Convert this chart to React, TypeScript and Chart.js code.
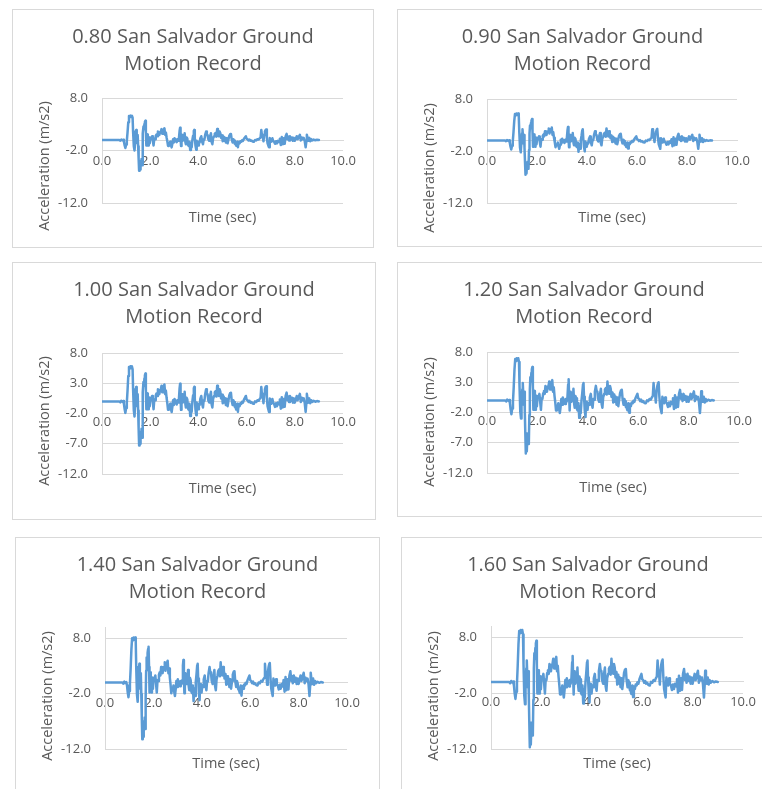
import React, { useEffect, useRef } from "react";
import { Chart, registerables } from "chart.js";

Chart.register(...registerables);

// San Salvador ground motion record at scale factor 1.00
// time (s) and acceleration (m/s2), listed second by second
const TIME_S = [
  0.0, 0.5, 0.72, 0.76, 0.8, 0.84, 0.88, 0.91, 0.94, 0.97, 1.0,
  1.03, 1.06, 1.09, 1.12, 1.15, 1.18, 1.21, 1.24, 1.27, 1.29, 1.32, 1.35, 1.37, 1.4, 1.42, 1.44, 1.46, 1.48, 1.5,
  1.52, 1.54, 1.56, 1.58, 1.6, 1.62, 1.64, 1.66, 1.68, 1.7, 1.72, 1.74, 1.76, 1.78, 1.8, 1.82, 1.84, 1.86, 1.88,
  1.9, 1.92, 1.94, 1.96, 1.98, 2.0,
  2.05, 2.08, 2.11, 2.14, 2.17, 2.2, 2.23, 2.26, 2.29, 2.32, 2.35, 2.38, 2.41, 2.44, 2.47, 2.5, 2.53, 2.56, 2.59,
  2.62, 2.65, 2.68, 2.71, 2.74, 2.77, 2.8, 2.83, 2.86, 2.89, 2.92, 2.95, 2.98,
  3.01, 3.04, 3.07, 3.1, 3.13, 3.16, 3.19, 3.22, 3.24, 3.26, 3.28, 3.3, 3.32, 3.35, 3.38, 3.41, 3.43, 3.46, 3.48,
  3.51, 3.54, 3.57, 3.6, 3.63, 3.66, 3.69, 3.72, 3.75, 3.78, 3.81, 3.83, 3.85, 3.88, 3.91, 3.93, 3.96, 3.99,
  4.02, 4.05, 4.08, 4.12, 4.15, 4.19, 4.22, 4.25, 4.28, 4.32, 4.35, 4.38, 4.41, 4.45, 4.48, 4.52, 4.55, 4.58,
  4.61, 4.65, 4.68, 4.72, 4.75, 4.78, 4.81, 4.85, 4.88, 4.91, 4.94, 4.98,
  5.01, 5.05, 5.08, 5.11, 5.14, 5.18, 5.21, 5.25, 5.28, 5.32, 5.35, 5.38, 5.42, 5.45, 5.48, 5.51, 5.54, 5.57,
  5.61, 5.64, 5.67, 5.71, 5.74, 5.78, 5.81, 5.85, 5.89, 5.93, 5.97,
  6.0, 6.04, 6.08, 6.12, 6.16, 6.2, 6.25, 6.3, 6.35, 6.4, 6.45, 6.5, 6.54, 6.58, 6.61, 6.64, 6.67, 6.7, 6.73,
  6.76, 6.79, 6.81, 6.84, 6.87, 6.9, 6.93, 6.96,
  7.0, 7.03, 7.07, 7.1, 7.14, 7.18, 7.22, 7.26, 7.3, 7.35, 7.38, 7.42, 7.46, 7.5, 7.54, 7.58, 7.62, 7.66, 7.7,
  7.73, 7.76, 7.8, 7.84, 7.88, 7.92, 7.96,
  8.0, 8.04, 8.08, 8.12, 8.16, 8.21, 8.25, 8.29, 8.33, 8.37, 8.41, 8.45, 8.48, 8.5, 8.53, 8.56, 8.6, 8.64, 8.68,
  8.72, 8.78, 8.85, 8.92, 9.0,
];

const ACCEL_1_00 = [
  0, 0, 0, -0.15, 0.1, -0.05, 0.05, -0.4, -1.3, -1.9, -1.1,
  -0.2, 1.8, 4.2, 5.7, 5.4, 5.8, 5.5, 5.8, 5.3, 2.0, -1.5, -2.5, -0.8, 1.5, 2.4, 0.8, -0.6, 1.2, -1.5,
  -4.5, -7.3, -6.2, -7.0, -5.0, -6.0, -4.5, -6.0, -2.0, 1.5, 3.2, 2.6, 3.8, 4.3, 4.6, 2.0, -1.3, 0.2, 1.3,
  -0.5, -1.3, 0.4, 0.6, -0.8, 0.2,
  0.5, 0.9, -0.2, -1.3, 0.3, 0.2, 1.0, 1.3, 0.9, 2.0, 1.5, 1.2, 1.9, 2.0, 2.6, 1.5, 2.2, 2.5, 2.8,
  1.2, 1.8, 0.6, -0.3, -1.4, -0.8, -1.0, -0.4, -1.2, -1.75, -0.9, 0.2, -0.6,
  0.4, -0.3, 0.1, -0.5, 0.2, -0.2, 0.3, 2.2, 2.9, 0.5, -1.4, 0.4, 1.2, -0.2, 0.8, 0.0, 1.6, -0.5, -1.0,
  0.6, 0.3, -1.2, -1.4, -0.4, -2.4, -0.8, -1.75, 0.0, 1.0, 2.2, 2.4, 0.5, -1.4, -2.3, -0.2, -1.2, -1.3,
  -0.4, -0.6, 0.4, 0.9, -0.3, -1.0, 0.2, 0.1, 1.2, 2.0, 1.3, 1.2, 0.2, -0.2, 0.8, 1.6, -0.5, -1.0,
  0.4, 0.9, 1.5, 1.7, 0.8, 2.6, 1.2, 0.9, 2.0, 1.6, 0.5, 1.1,
  -0.3, 0.8, -0.2, 0.5, -0.6, 0.4, -0.8, 0.2, 1.0, 1.4, 1.45, 0.2, -0.6, 0.2, -0.1, -0.9, -1.0, -1.35,
  -0.4, -1.7, -0.5, -0.8, -0.3, -0.4, -0.05, -0.2, 0.3, 0.6, 0.9,
  0.3, 0.2, -0.1, 0.1, -0.2, -0.1, -0.35, -0.4, 0.0, -0.1, 0.2, 0.1, 0.4, 0.6, 2.4, 1.0, 0.9, -0.3, 1.3,
  2.0, 2.4, 2.5, 0.5, -0.8, -1.3, -1.75, 0.5,
  0.0, -0.4, 0.4, -0.2, -0.4, -0.9, -0.3, -0.8, -0.2, -0.5, 0.3, -1.2, 0.7, -1.0, 0.4, -0.9, 0.9, 1.45, 0.2,
  0.8, -0.1, 0.9, 0.1, 0.6, -0.2, 0.5,
  -0.2, 0.3, 0.9, 0.2, 0.7, 1.25, -0.1, 0.6, 0.2, 0.5, -0.2, -1.75, -0.3, 1.25, 0.4, -0.2, 0.5, -0.3, 0.2,
  -0.1, 0.1, -0.05, 0.05, 0,
];

// scale factor applied to the record in each panel
const SCALE_FACTORS = [0.8, 0.9, 1.0, 1.2, 1.4, 1.6];
const SCALE_LABELS = ["0.80", "0.90", "1.00", "1.20", "1.40", "1.60"];

const X_TICKS = [0, 2, 4, 6, 8, 10];
const Y_TICKS_COARSE = [-12, -2, 8];
const Y_TICKS_FINE = [-12, -7, -2, 3, 8];
const Y_TICK_SETS = [Y_TICKS_COARSE, Y_TICKS_COARSE, Y_TICKS_FINE, Y_TICKS_FINE, Y_TICKS_COARSE, Y_TICKS_COARSE];
const Y_MIN = -12;
const Y_MAX = [8, 8, 8, 8, 10, 10];

const TITLE_SUFFIX = "San Salvador Ground";
const TITLE_LINE_2 = "Motion Record";
const X_TITLE = "Time (sec)";
const Y_TITLE = "Acceleration (m/s2)";

// panel frames on the page: left, top, width, height
const PANEL_BOXES = [
  [12, 9, 362, 239],
  [397, 9, 371, 238],
  [12, 262, 364, 258],
  [397, 262, 374, 255],
  [15, 537, 365, 258],
  [401, 537, 374, 258],
];
// plot area inside each frame: left edge, right margin, top edge, bottom margin
const PLOT_INSETS = [
  [90, 31, 89, 45],
  [90, 31, 90, 44],
  [90, 33, 91, 46],
  [90, 32, 90, 44],
  [90, 33, 90, 46],
  [90, 32, 89, 46],
];
const Y_TITLE_CENTER_Y = [157, 159, 159, 160, 159, 159];

const FONT = "'Open Sans', 'DejaVu Sans', sans-serif";
const TEXT_COLOR = "#595959";
const GRID_COLOR = "#d9d9d9";
const LINE_COLOR = "#5b9bd5";

const panelText = {
  id: "panelText",
  afterDraw(chart: any, _args: any, opts: any) {
    const { ctx, chartArea } = chart;
    ctx.save();
    ctx.fillStyle = TEXT_COLOR;
    ctx.textAlign = "center";
    ctx.textBaseline = "middle";
    ctx.font = `20px ${FONT}`;
    opts.title.forEach((line: string, i: number) => {
      ctx.fillText(line, chart.width / 2, opts.titleY + i * opts.titleLeading);
    });
    ctx.font = `14.5px ${FONT}`;
    ctx.fillText(opts.xTitle, (chartArea.left + chartArea.right) / 2, chartArea.bottom + opts.xTitleGap);
    ctx.translate(opts.yTitleX, opts.yTitleY);
    ctx.rotate(-Math.PI / 2);
    ctx.fillText(opts.yTitle, 0, 0);
    ctx.restore();
  },
};

function Panel({ index }: { index: number }) {
  const ref = useRef<HTMLCanvasElement>(null);
  const [bx, by, bw, bh] = PANEL_BOXES[index];
  const cw = bw - 2;
  const ch = bh - 2;

  useEffect(() => {
    const [pl, pr, pt, pb] = PLOT_INSETS[index];
    const factor = SCALE_FACTORS[index];
    const yTicks = Y_TICK_SETS[index];
    const points = TIME_S.map((t, i) => ({ x: t, y: +(ACCEL_1_00[i] * factor).toFixed(3) }));
    const tickFont = { family: FONT, size: 13 };

    const chart = new Chart(ref.current as HTMLCanvasElement, {
      type: "line",
      data: {
        datasets: [
          {
            data: points,
            borderColor: LINE_COLOR,
            borderWidth: 2.5,
            pointRadius: 0,
            tension: 0,
            fill: false,
            borderJoinStyle: "round",
            borderCapStyle: "round",
          },
        ],
      },
      options: {
        animation: false,
        responsive: false,
        devicePixelRatio: 1,
        layout: { padding: { left: 0, top: pt - 1, right: pr - 1, bottom: pb - 1 } },
        plugins: {
          legend: { display: false },
          tooltip: { enabled: false },
          title: { display: false },
          panelText: {
            title: [`${SCALE_LABELS[index]} ${TITLE_SUFFIX}`, TITLE_LINE_2],
            titleY: 27,
            titleLeading: 27.5,
            xTitle: X_TITLE,
            xTitleGap: 15,
            yTitle: Y_TITLE,
            yTitleX: 32,
            yTitleY: Y_TITLE_CENTER_Y[index] - 1,
          },
        } as any,
        scales: {
          x: {
            type: "linear",
            min: 0,
            max: 10,
            position: { y: 0 } as any,
            afterBuildTicks: (axis: any) => {
              axis.ticks = X_TICKS.map((v) => ({ value: v }));
            },
            grid: { display: false, drawTicks: false },
            border: { display: true, color: GRID_COLOR, width: 1 },
            ticks: {
              color: TEXT_COLOR,
              font: tickFont,
              padding: 13,
              maxRotation: 0,
              autoSkip: false,
              callback: (v: any) => Number(v).toFixed(1),
            },
          },
          y: {
            type: "linear",
            min: Y_MIN,
            max: Y_MAX[index],
            position: "left",
            afterBuildTicks: (axis: any) => {
              axis.ticks = yTicks.map((v) => ({ value: v }));
            },
            afterFit: (axis: any) => {
              axis.width = pl - 1;
            },
            grid: { color: GRID_COLOR, lineWidth: 1, drawTicks: false },
            border: { display: true, color: GRID_COLOR, width: 1 },
            ticks: {
              color: TEXT_COLOR,
              font: tickFont,
              padding: 14,
              callback: (v: any) => Number(v).toFixed(1),
            },
          },
        },
      } as any,
      plugins: [panelText],
    });
    return () => chart.destroy();
  }, [index]);

  return (
    <div
      style={{
        position: "absolute",
        left: bx,
        top: by,
        width: bw,
        height: bh,
        boxSizing: "border-box",
        border: `1px solid ${GRID_COLOR}`,
        background: "#fff",
      }}
    >
      <canvas
        ref={ref}
        width={cw}
        height={ch}
        style={{ position: "absolute", left: 0, top: 0, width: cw, height: ch }}
      />
    </div>
  );
}

export default function App() {
  return (
    <div
      style={{
        position: "absolute",
        left: 0,
        top: 0,
        width: 762,
        height: 789,
        overflow: "hidden",
        background: "#fff",
      }}
    >
      {SCALE_FACTORS.map((_, i) => (
        <Panel key={i} index={i} />
      ))}
    </div>
  );
}
